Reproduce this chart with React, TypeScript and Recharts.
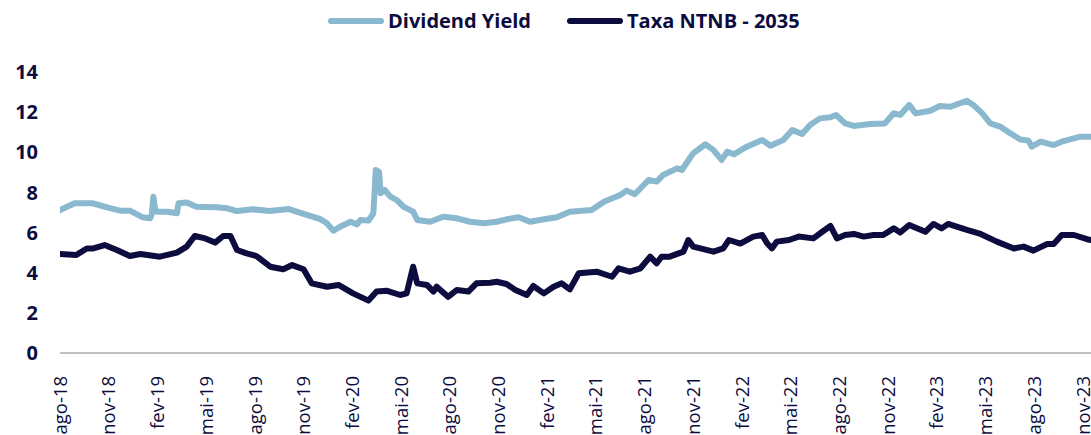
import { LineChart, Line, XAxis, YAxis } from "recharts";

// x = months elapsed since ago-18
const tickLabels = [
  "ago-18", "nov-18", "fev-19", "mai-19", "ago-19", "nov-19", "fev-20", "mai-20",
  "ago-20", "nov-20", "fev-21", "mai-21", "ago-21", "nov-21", "fev-22", "mai-22",
  "ago-22", "nov-22", "fev-23", "mai-23", "ago-23", "nov-23",
];
const yTicks = [0, 2, 4, 6, 8, 10, 12, 14];

const dyMonths = [
  0, 0.9, 2, 2.9, 3.7, 4.3, 5.1, 5.55, 5.65, 5.75, 5.85, 5.95, 6.6, 7.2, 7.3, 7.8, 8.4, 9.65,
  10.3, 10.9, 11.9, 12.9, 14.1, 15, 16, 16.4, 16.85, 17.25, 17.9, 18.3, 18.5, 19, 19.3, 19.45,
  19.65, 19.75, 20, 20.35, 20.75, 21.15, 21.75, 22, 22.8, 23.6, 24.45, 25.25, 26.1, 26.9, 27.5,
  28.25, 28.95, 29.8, 30.6, 31.4, 32.75, 33.5, 34.5, 34.9, 35.4, 36.25, 36.75, 37.15, 38, 38.3,
  39, 39.75, 40.25, 40.75, 41.1, 41.5, 42.3, 43.25, 43.75, 44.55, 45.1, 45.7, 46.2, 46.8, 47.45,
  47.8, 48.35, 48.9, 49.9, 50.8, 51.35, 51.75, 52.3, 52.7, 53.6, 54.2, 54.85, 55.85, 56.25, 56.8,
  57.3, 57.9, 58.55, 59.15, 59.65, 59.85, 60.4, 61.2, 61.8, 62.85, 63.5,
];
const dyValues = [
  7.12, 7.46, 7.46, 7.26, 7.09, 7.09, 6.76, 6.71, 6.9, 7.79, 7.2, 7.04, 7.04, 6.96, 7.46, 7.5, 7.29, 7.26,
  7.21, 7.07, 7.16, 7.07, 7.17, 6.93, 6.68, 6.49, 6.09, 6.29, 6.54, 6.41, 6.63, 6.6, 6.96, 9.12,
  9.03, 7.96, 8.12, 7.79, 7.62, 7.29, 7.04, 6.63, 6.54, 6.79, 6.71, 6.54, 6.46, 6.54, 6.66,
  6.76, 6.54, 6.66, 6.76, 7.04, 7.12, 7.54, 7.87, 8.09, 7.91, 8.62, 8.54, 8.87, 9.2, 9.12,
  9.95, 10.4, 10.11, 9.62, 10.03, 9.9, 10.28, 10.61, 10.33, 10.61, 11.11, 10.91, 11.36, 11.69, 11.74,
  11.86, 11.44, 11.31, 11.41, 11.44, 11.94, 11.86, 12.36, 11.94, 12.07, 12.31, 12.27, 12.57, 12.36, 11.94,
  11.44, 11.28, 10.94, 10.64, 10.58, 10.28, 10.53, 10.36, 10.56, 10.78, 10.78,
];

const ntnbMonths = [
  0, 1, 1.65, 2.05, 2.75, 3.5, 4.3, 4.95, 6.15, 7.2, 7.8, 8.3, 8.95, 9.55, 10.05, 10.5, 10.9,
  11.5, 12.1, 12.95, 13.75, 14.3, 15, 15.5, 16.45, 17.15, 18.05, 19, 19.5, 20.15, 20.95, 21.35,
  21.75, 22, 22.6, 23, 23.2, 23.9, 24.45, 25.15, 25.65, 26.5, 26.9, 27.5, 28.05, 28.75, 29.15,
  29.8, 30.4, 30.9, 31.4, 31.95, 33.05, 34, 34.4, 35.1, 35.75, 36.35, 36.75, 37.05, 37.55, 38.4,
  38.7, 39, 40.25, 40.85, 41.2, 41.9, 42.7, 43.25, 43.55, 43.85, 44.15, 44.9, 45.5, 46.4, 46.95,
  47.45, 47.85, 48.35, 48.9, 49.5, 50.1, 50.7, 51.35, 51.75, 52.3, 53.3, 53.8, 54.3, 54.7, 55.85,
  56.7, 57.7, 58.75, 59.35, 59.95, 60.8, 61.2, 61.7, 62.45, 63.25, 63.5,
];
const ntnbValues = [
  4.93, 4.88, 5.21, 5.21, 5.38, 5.13, 4.83, 4.93, 4.8, 5.0, 5.3, 5.83, 5.71, 5.5, 5.83, 5.83, 5.13,
  4.96, 4.83, 4.3, 4.17, 4.38, 4.17, 3.47, 3.3, 3.39, 2.97, 2.61, 3.06, 3.1, 2.89, 2.97,
  4.3, 3.47, 3.39, 3.06, 3.3, 2.8, 3.14, 3.06, 3.47, 3.5, 3.55, 3.44, 3.14, 2.89, 3.34,
  2.97, 3.3, 3.47, 3.17, 3.97, 4.05, 3.8, 4.22, 4.05, 4.22, 4.8, 4.47, 4.8, 4.8, 5.05,
  5.63, 5.3, 5.05, 5.21, 5.63, 5.45, 5.8, 5.88, 5.47, 5.21, 5.55, 5.63, 5.8, 5.71, 6.04,
  6.33, 5.71, 5.88, 5.93, 5.8, 5.88, 5.88, 6.21, 6.0, 6.38, 6.04, 6.43, 6.21, 6.43, 6.13,
  5.93, 5.55, 5.21, 5.3, 5.1, 5.43, 5.43, 5.88, 5.88, 5.67, 5.63,
];

const dyData = dyMonths.map((t, i) => ({ t, v: dyValues[i] }));
const ntnbData = ntnbMonths.map((t, i) => ({ t, v: ntnbValues[i] }));

const NAVY = "#0c0c3e";
const LIGHT = "#8ab8ce";
const FONT = "'Open Sans', sans-serif";

function XTick({ x, y, payload }: any) {
  const label = tickLabels[Math.round(payload.value / 3)] ?? "";
  return (
    <text
      transform={`translate(${x},${y + 15}) rotate(-90)`}
      textAnchor="end"
      dy="0.36em"
      fill={NAVY}
      fontSize={18.5}
      fontFamily={FONT}
    >
      {label}
    </text>
  );
}

function YTick({ x, y, payload }: any) {
  return (
    <text x={x} y={y} dy="0.36em" textAnchor="end" fill={NAVY} fontSize={20} fontWeight={700} fontFamily={FONT}>
      {payload.value}
    </text>
  );
}

function LegendItem({ color, label }: { color: string; label: string }) {
  return (
    <div style={{ display: "flex", alignItems: "center" }}>
      <div style={{ width: 56, height: 6, borderRadius: 3, background: color, marginRight: 4 }} />
      <span>{label}</span>
    </div>
  );
}

export default function App() {
  return (
    <div style={{ position: "relative", width: 1091, height: 435, background: "#fff", overflow: "hidden" }}>
      <style>{"body{margin:0}"}</style>
      <div
        style={{
          position: "absolute",
          top: 6,
          left: 328,
          display: "flex",
          gap: 36,
          fontFamily: FONT,
          fontWeight: 700,
          fontSize: 20,
          color: NAVY,
          lineHeight: "30px",
        }}
      >
        <LegendItem color={LIGHT} label="Dividend Yield" />
        <LegendItem color={NAVY} label="Taxa NTNB - 2035" />
      </div>
      <LineChart width={1091} height={435} margin={{ top: 72, right: 0, bottom: 0, left: 0 }}>
        <XAxis
          type="number"
          dataKey="t"
          domain={[0, 63.5]}
          ticks={tickLabels.map((_, i) => i * 3)}
          allowDataOverflow
          height={82}
          tickLine={false}
          tick={<XTick />}
          axisLine={{ stroke: "#bfbfbf", strokeWidth: 2 }}
          interval={0}
        />
        <YAxis
          type="number"
          domain={[0, 14]}
          ticks={yTicks}
          width={60}
          axisLine={false}
          tickLine={false}
          tickSize={0}
          tickMargin={22}
          tick={<YTick />}
          interval={0}
        />
        <Line
          data={dyData}
          dataKey="v"
          type="linear"
          stroke={LIGHT}
          strokeWidth={6}
          dot={false}
          strokeLinejoin="round"
          strokeLinecap="round"
          isAnimationActive={false}
        />
        <Line
          data={ntnbData}
          dataKey="v"
          type="linear"
          stroke={NAVY}
          strokeWidth={6}
          dot={false}
          strokeLinejoin="round"
          strokeLinecap="round"
          isAnimationActive={false}
        />
      </LineChart>
    </div>
  );
}
